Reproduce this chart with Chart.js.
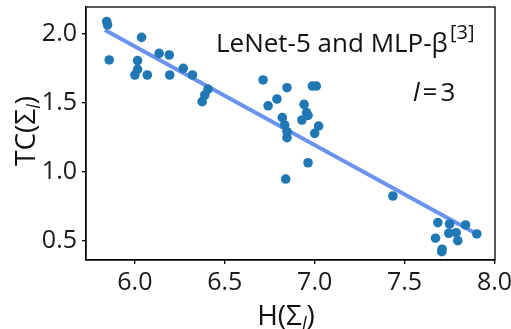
<!DOCTYPE html>
<html>
<head>
<meta charset="utf-8">
<script src="https://cdn.jsdelivr.net/npm/chart.js@4"></script>
<style>
  html, body { margin: 0; padding: 0; background: #fff; }
  #wrap { width: 511px; height: 329px; }
</style>
</head>
<body>
<div id="wrap"><canvas id="chart" width="511" height="329"></canvas></div>
<script>
// H(Σ_l) and TC(Σ_l) per layer sample
const hValues = [
  5.843, 5.848, 5.857, 6.037, 6.015, 6.000, 6.015, 6.069, 6.135, 6.191,
  6.194, 6.269, 6.320, 6.407, 6.389, 6.374, 6.713, 6.846, 6.987, 7.009,
  6.790, 6.741, 6.941, 6.955, 6.963, 6.929, 6.820, 6.833, 6.846, 6.846,
  7.022, 7.000, 6.963, 6.839, 7.435, 7.685, 7.750, 7.839, 7.902, 7.746,
  7.787, 7.796, 7.672, 7.707, 7.709
];
const tcValues = [
  2.090, 2.066, 1.812, 1.976, 1.807, 1.703, 1.744, 1.703, 1.860, 1.848,
  1.703, 1.751, 1.703, 1.601, 1.558, 1.510, 1.667, 1.611, 1.623, 1.623,
  1.529, 1.480, 1.490, 1.430, 1.410, 1.377, 1.394, 1.341, 1.292, 1.249,
  1.333, 1.280, 1.067, 0.949, 0.826, 0.633, 0.623, 0.616, 0.551, 0.556,
  0.560, 0.502, 0.520, 0.422, 0.440
];
// fitted line end points
const trendH = [5.833, 7.917];
const trendTC = [2.03, 0.54];

const xTicks = [6.0, 6.5, 7.0, 7.5, 8.0];
const yTicks = [0.5, 1.0, 1.5, 2.0];
const xRange = [5.728, 8.003];
const yRange = [0.362, 2.196];

const FONT = '"Open Sans", sans-serif';

function drawRuns(ctx, parts, x, y, center) {
    let total = 0;
    parts.forEach(p => {
        ctx.font = p.font;
        p.w = ctx.measureText(p.text).width;
        total += p.w + (p.gap || 0);
    });
    let cx = center ? x - total / 2 : x;
    parts.forEach(p => {
        ctx.font = p.font;
        ctx.fillText(p.text, cx, y + (p.dy || 0));
        cx += p.w + (p.gap || 0);
    });
}

const textPlugin = {
    id: 'texts',
    afterDraw(chart) {
        const ctx = chart.ctx;
        const a = chart.chartArea;
        ctx.save();
        // frame on all four sides
        ctx.strokeStyle = '#000';
        ctx.lineWidth = 1.3;
        ctx.strokeRect(a.left, a.top, a.right - a.left, a.bottom - a.top);

        ctx.fillStyle = '#111';
        ctx.textBaseline = 'alphabetic';
        ctx.textAlign = 'left';

        // annotation
        drawRuns(ctx, [
            { text: 'LeNet-5 and MLP-β', font: '26px ' + FONT, gap: 2 },
            { text: '[3]', font: '20px ' + FONT, dy: -13 }
        ], 216, 52, false);
        drawRuns(ctx, [
            { text: 'l', font: 'italic 26px ' + FONT, gap: 3 },
            { text: '=', font: '26px ' + FONT, gap: 3 },
            { text: '3', font: '26px ' + FONT }
        ], 413, 101, false);

        // x title
        drawRuns(ctx, [
            { text: 'H(Σ', font: '28px ' + FONT },
            { text: 'l', font: 'italic 18px ' + FONT, dy: 5 },
            { text: ')', font: '28px ' + FONT }
        ], 286, 325, true);

        // y title
        ctx.translate(35, 131);
        ctx.rotate(-Math.PI / 2);
        drawRuns(ctx, [
            { text: 'TC(Σ', font: '28px ' + FONT },
            { text: 'l', font: 'italic 18px ' + FONT, dy: 5 },
            { text: ')', font: '28px ' + FONT }
        ], 0, 0, true);
        ctx.restore();
    }
};

const ctx = document.getElementById('chart').getContext('2d');

new Chart(ctx, {
    type: 'scatter',
    data: {
        datasets: [{
            label: 'layers',
            data: hValues.map((h, i) => ({ x: h, y: tcValues[i] })),
            backgroundColor: '#1f77b4',
            borderWidth: 0,
            pointRadius: 4.8,
            pointHoverRadius: 4.8
        }, {
            type: 'line',
            label: 'fit',
            data: trendH.map((h, i) => ({ x: h, y: trendTC[i] })),
            borderColor: '#6a93ee',
            borderWidth: 4,
            pointRadius: 0,
            fill: false
        }]
    },
    options: {
        responsive: false,
        animation: false,
        events: [],
        layout: { padding: { left: 0, top: 7, right: 16, bottom: 0 } },
        plugins: {
            legend: { display: false },
            tooltip: { enabled: false }
        },
        scales: {
            x: {
                type: 'linear',
                min: xRange[0],
                max: xRange[1],
                afterBuildTicks: s => { s.ticks = xTicks.map(v => ({ value: v })); },
                afterFit: s => { s.height = 69; s.paddingLeft = 0; s.paddingRight = 0; },
                grid: { drawOnChartArea: false, drawTicks: true, tickLength: 4, color: '#000', lineWidth: 1.3 },
                border: { display: true, color: '#000', width: 1.3 },
                ticks: {
                    font: { family: FONT, size: 25 },
                    color: '#1a1a1a',
                    padding: 4,
                    maxRotation: 0,
                    autoSkip: false,
                    callback: v => v.toFixed(1)
                }
            },
            y: {
                type: 'linear',
                min: yRange[0],
                max: yRange[1],
                afterBuildTicks: s => { s.ticks = yTicks.map(v => ({ value: v })); },
                afterFit: s => { s.width = 86; s.paddingTop = 0; s.paddingBottom = 0; },
                grid: { drawOnChartArea: false, drawTicks: true, tickLength: 4, color: '#000', lineWidth: 1.3 },
                border: { display: true, color: '#000', width: 1.3 },
                ticks: {
                    font: { family: FONT, size: 25 },
                    color: '#1a1a1a',
                    padding: 5,
                    autoSkip: false,
                    callback: v => v.toFixed(1)
                }
            }
        }
    },
    plugins: [textPlugin]
});
</script>
</body>
</html>
